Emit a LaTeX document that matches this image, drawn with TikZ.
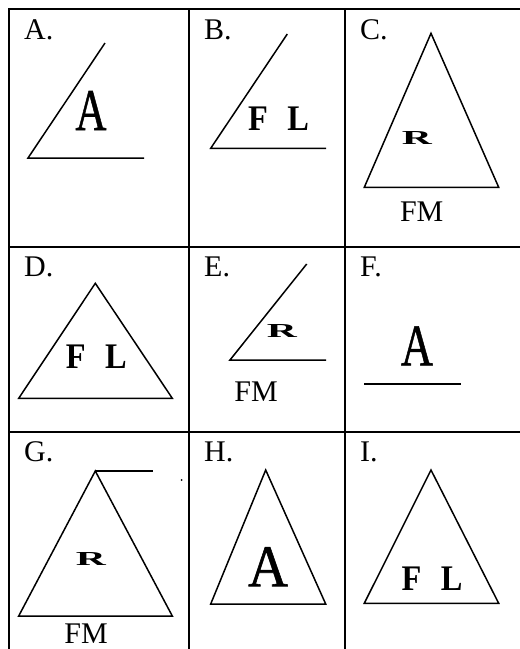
\documentclass[tikz,border=0pt]{standalone}
\usepackage{fontspec}
\setmainfont{Liberation Serif}
\newfontfamily\heavyserif[FakeBold=1.0]{Liberation Serif}
\usepackage{graphicx}

\newcommand{\capA}[1]{\resizebox{#1pt}{39pt}{\heavyserif A}}
\newcommand{\wideR}{\resizebox{30pt}{13pt}{\bfseries R}}
\newcommand{\pairFL}{\scalebox{0.9}[1]{\fontsize{36}{36}\selectfont\bfseries F\hspace{0.6em}L}}

\tikzset{
  gridline/.style={line width=2.2pt},
  figline/.style={line width=1.5pt, line join=miter},
  cellname/.style={anchor=base west, inner sep=0pt, font=\fontsize{30}{30}\selectfont},
  letter/.style={inner sep=0pt, anchor=center},
  fmtext/.style={inner sep=0pt, anchor=center, font=\fontsize{30}{30}\selectfont},
}

\begin{document}
\begin{tikzpicture}[x=1pt, y=-1pt]
    \useasboundingbox (0,0) rectangle (520,649);

    % Table grid
    \draw[gridline] (9,9) -- (520,9);
    \draw[gridline] (9,247) -- (520,247);
    \draw[gridline] (9,432) -- (520,432);
    \foreach \x in {9, 189, 345} {
        \draw[gridline] (\x,8) -- (\x,649);
    }

    % Cell names
    \foreach \x/\y/\name in {24/39.3/A, 204/39.3/B, 360/39.3/C, 24/276/D, 204/276/E, 360/276/F, 24/461.5/G, 204/461.5/H, 360/461.5/I} {
        \node[cellname] (cell\name) at (\x,\y) {\name.};
    }

    % A: open angle
    \draw[figline] (105,43) -- (28,158) -- (144,158);
    \node[letter] (letA) at (91,110.5) {\capA{31}};

    % B: open angle
    \draw[figline] (287.3,34) -- (210.7,148.3) -- (326,148.3);
    \node[letter] (letB) at (278.5,119) {\pairFL};

    % C: triangle
    \draw[figline] (431,33.3) -- (364.3,187.3) -- (498.7,187.3) -- cycle;
    \node[letter] (letC) at (417,137.5) {\wideR};
    \node[fmtext] (fmC) at (421.7,212) {FM};

    % D: triangle
    \draw[figline] (95.3,283.3) -- (18.7,398.3) -- (172.3,398.3) -- cycle;
    \node[letter] (letD) at (96.2,357) {\pairFL};

    % E: open angle
    \draw[figline] (306.7,264) -- (230,360) -- (326,360);
    \node[letter] (letE) at (282,330.7) {\wideR};
    \node[fmtext] (fmE) at (256,391.3) {FM};

    % F: single line
    \node[letter] (letF) at (417,345.8) {\capA{32}};
    \draw[figline] (364,384) -- (460.7,384);

    % G: triangle with top line
    \draw[figline] (95.3,471) -- (18.7,616) -- (172.3,616) -- cycle;
    \draw[figline] (95.3,471) -- (153.3,471);
    \fill (181.7,480) circle (1pt);
    \node[letter] (letG) at (91,559) {\wideR};
    \node[fmtext] (fmG) at (86,634) {FM};

    % H: triangle
    \draw[figline] (265.7,470) -- (210.7,604) -- (325.7,604) -- cycle;
    \node[letter] (letH) at (268,566.7) {\capA{40}};

    % I: triangle
    \draw[figline] (431,470) -- (364.3,603.3) -- (498.7,603.3) -- cycle;
    \node[letter] (letI) at (432,579) {\pairFL};
\end{tikzpicture}
\end{document}
